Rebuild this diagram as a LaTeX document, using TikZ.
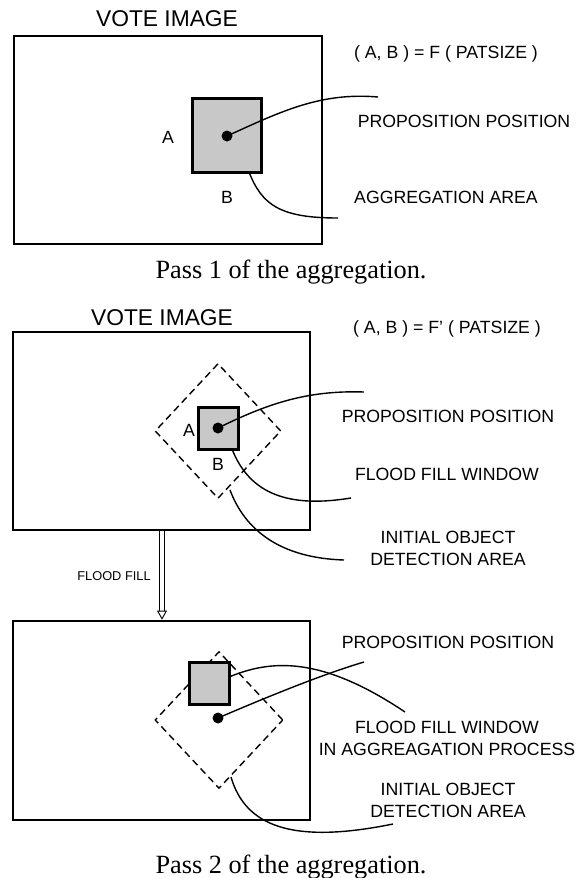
\documentclass[tikz,border=0pt]{standalone}
\usepackage{fontspec}
\setmainfont{Liberation Sans}
\newfontfamily\capfont{Liberation Serif}
\usetikzlibrary{shapes.geometric, arrows.meta, positioning}
\definecolor{patgray}{RGB}{200,200,200}
\tikzset{
    frame/.style={
        rectangle, draw, line width=2.7pt, inner sep=0pt
    },
    patch/.style={
        rectangle, draw, fill=patgray, line width=3pt, inner sep=0pt
    },
    pdot/.style={
        circle, fill=black, inner sep=0pt, minimum size=11pt
    },
    window/.style={
        diamond, draw, line width=1.4pt, dash pattern=on 7pt off 4.5pt,
        inner sep=0pt
    },
    lbl/.style={font=\fontsize{17.7}{21.5}\selectfont, inner sep=0pt, align=center},
    title/.style={font=\fontsize{22.8}{27}\selectfont, inner sep=0pt},
    smalllbl/.style={font=\fontsize{12.8}{15}\selectfont, inner sep=0pt},
    caption/.style={font=\capfont\fontsize{26.3}{30}\selectfont, inner sep=0pt},
    lead/.style={line width=1.4pt},
    fillarrow/.style={double, double distance=3.5pt, line width=0.9pt,
        -{Triangle[open, length=9pt, width=10pt]}}
}
\begin{document}
\begin{tikzpicture}[x=1pt, y=-1pt]
\useasboundingbox (0,0) rectangle (582,878);

% Pass 1
\node[title, anchor=base] (title1) at (167,26) {VOTE IMAGE};
\node[lbl, anchor=base] (func1) at (446,58.5) {( A, B ) = F ( PATSIZE )};
\node[frame, minimum width=308pt, minimum height=208pt] (box1) at (168,140) {};
\node[patch, minimum width=69pt, minimum height=74pt] (sq1) at (226.5,135) {};
\node[pdot] (dot1) at (227,136) {};
\node[lbl] (a1) at (168,137) {A};
\node[lbl] (b1) at (227,197) {B};
\node[lbl, anchor=base] (prop1) at (464,127) {PROPOSITION POSITION};
\node[lbl, anchor=base] (aggr1) at (446,203) {AGGREGATION AREA};
\node[caption, anchor=base] (cap1) at (291,278) {Pass 1 of the aggregation.};

% Leaders, pass 1
\coordinate (p1end) at (378,97);
\coordinate (a1start) at (249,172);
\coordinate (a1end) at (338,218);
\draw[lead] (dot1.center) .. controls (280,112) and (320,92) .. (p1end);
\draw[lead] (a1start) .. controls (262,205) and (280,218) .. (a1end);

% Pass 2
\node[title, anchor=base] (title2) at (162,325) {VOTE IMAGE};
\node[lbl, anchor=base] (func2) at (447,333) {( A, B ) = F' ( PATSIZE )};
\node[frame, minimum width=297pt, minimum height=198pt] (box2) at (161.5,431) {};
\node[window, minimum width=126pt, minimum height=135pt] (win2) at (218,431) {};
\node[patch, minimum width=40pt, minimum height=42pt] (sq2) at (218,428) {};
\node[pdot] (dot2) at (218,428) {};
\node[lbl] (a2) at (189,430) {A};
\node[lbl] (b2) at (218,464) {B};
\node[lbl, anchor=base] (prop2) at (448,422) {PROPOSITION POSITION};
\node[lbl, anchor=base] (ffw2) at (447,480) {FLOOD FILL WINDOW};
\node[lbl, anchor=base] (init2) at (448,565) {INITIAL OBJECT\\DETECTION AREA};

% Leaders, pass 2
\coordinate (p2end) at (364,392);
\coordinate (w2start) at (232,449);
\coordinate (w2end) at (351,498);
\coordinate (d2start) at (230,490);
\coordinate (d2end) at (344,560);
\draw[lead] (dot2.center) .. controls (265,405) and (305,390) .. (p2end);
\draw[lead] (w2start) .. controls (250,495) and (290,508) .. (w2end);
\draw[lead] (d2start) .. controls (245,530) and (280,558) .. (d2end);

% Flood fill step
\node[frame, minimum width=297pt, minimum height=199pt] (box3) at (161.5,720.5) {};
\coordinate (ffx) at (162,0);
\draw[fillarrow] (box2.south -| ffx) -- (box3.north -| ffx);
\node[smalllbl] (fflbl) at (114,576) {FLOOD FILL};

% Pass 2, after flood fill
\node[window, minimum width=128pt, minimum height=137pt] (win3) at (219,720) {};
\node[patch, minimum width=40pt, minimum height=42pt] (sq3) at (209,683) {};
\node[pdot] (dot3) at (218,718) {};
\node[lbl, anchor=base] (prop3) at (448,648) {PROPOSITION POSITION};
\node[lbl, anchor=base] (ffw3) at (447,755) {FLOOD FILL WINDOW\\IN AGGREAGATION PROCESS};
\node[lbl, anchor=base] (init3) at (448,817) {INITIAL OBJECT\\DETECTION AREA};
\node[caption, anchor=base] (cap2) at (291,873) {Pass 2 of the aggregation.};

% Leaders, pass 2 after flood fill
\coordinate (p3end) at (364,662);
\coordinate (w3start) at (229,677);
\coordinate (w3end) at (405,712);
\coordinate (d3start) at (231,777);
\coordinate (d3end) at (393,824);
\draw[lead] (dot3.center) .. controls (260,700) and (320,675) .. (p3end);
\draw[lead] (w3start) .. controls (270,660) and (320,655) .. (w3end);
\draw[lead] (d3start) .. controls (245,825) and (290,845) .. (d3end);

\end{tikzpicture}
\end{document}
